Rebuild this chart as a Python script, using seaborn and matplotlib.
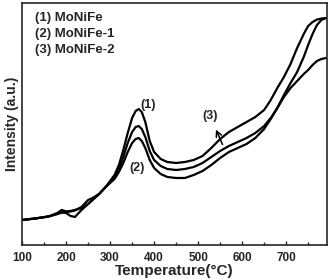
import matplotlib
matplotlib.use("Agg")
import matplotlib.pyplot as plt
import seaborn as sns
import pandas as pd

sns.set_style("ticks")
plt.rcParams['font.family'] = ['Liberation Sans', 'DejaVu Sans']
plt.rcParams['font.weight'] = 'bold'

# data (arbitrary intensity units)
temps = [100, 130, 160, 180, 190, 200, 210, 220, 235, 250, 260, 275, 290, 300,
         310, 320, 330, 340, 350, 358, 365, 372, 380, 390, 400, 415, 430, 450,
         470, 490, 510, 530, 550, 570, 590, 610, 630, 650, 665, 680, 695, 710,
         725, 740, 750, 760, 770, 780, 790]

monife = [25, 26.5, 28.5, 32, 35, 33.5, 34, 35, 37, 41, 45, 51, 58, 64,
          70, 80, 95, 112, 127, 134, 136, 133, 123, 104, 93, 86, 83, 82,
          83, 85, 89, 97, 106, 113, 118, 123, 128, 135, 145, 157, 168, 181,
          197, 211, 219, 223, 225.5, 226.5, 227]

monife_1 = [25, 26.5, 28.5, 31, 32.5, 32, 29, 28, 35, 41, 45, 51, 58, 62,
            66, 73, 82, 93, 102, 106, 107, 104, 97, 85, 77, 71, 68, 67,
            67, 70, 74, 80, 87, 93, 97, 101, 107, 116, 126, 137, 150, 162,
            173, 188, 200, 211, 220, 225, 227]

monife_2 = [25, 26.5, 28.5, 31, 32.5, 33, 33.5, 34.5, 38, 45, 47, 51, 58, 63,
            68, 76, 88, 102, 113, 118, 119, 116, 108, 94, 85, 79, 76, 75,
            76, 78, 82, 88, 94, 99, 103, 107, 112, 119, 127, 137, 148, 157,
            164, 171, 175, 180, 184, 186, 187]

df = pd.DataFrame({'T': temps * 3,
                   'I': monife + monife_1 + monife_2,
                   'sample': ['(1)'] * len(temps) + ['(2)'] * len(temps) + ['(3)'] * len(temps)})

fig = plt.figure(figsize=(3.3, 2.79), dpi=100)
ax = fig.add_axes([0.067, 0.122, 0.924, 0.867])

for name, g in df.groupby('sample'):
    sns.lineplot(x='T', y='I', data=g, color='black', lw=1.6, ax=ax, sort=False)

ax.set_xlim(100, 793)
ax.set_ylim(0, 242)
ax.set_xticks([100, 200, 300, 400, 500, 600, 700])
ax.set_xticks([150, 250, 350, 450, 550, 650, 750], minor=True)
ax.set_yticks([])
ax.tick_params(axis='x', direction='in', length=3, width=1, labelsize=8.5, pad=5)
ax.tick_params(axis='x', which='minor', direction='in', length=2, width=1)
for lbl in ax.get_xticklabels():
    lbl.set_fontweight('bold')
for s in ax.spines.values():
    s.set_linewidth(1.2)

ax.set_xlabel("Temperature(°C)", fontsize=11, fontweight='bold')
ax.xaxis.set_label_coords(0.5, -0.078)
ax.set_ylabel("Intensity (a.u.)", fontsize=10, fontweight='bold', labelpad=2)

# sample labels in the upper left
names = ["(1) MoNiFe", "(2) MoNiFe-1", "(3) MoNiFe-2"]
for i, t in enumerate(names):
    ax.text(0.042, 0.94 - i * 0.066, t, transform=ax.transAxes, fontsize=9.5,
            fontweight='bold', va='center', ha='left')

ax.text(386, 140, "(1)", fontsize=9, fontweight='bold', ha='center', va='center')
ax.text(361, 77, "(2)", fontsize=9, fontweight='bold', ha='center', va='center')
ax.text(527, 129, "(3)", fontsize=9, fontweight='bold', ha='center', va='center')
ax.annotate("", xy=(538, 118), xytext=(558, 98),
            arrowprops=dict(arrowstyle='->', color='black', lw=1.1))

fig.savefig("out.png", dpi=100)
